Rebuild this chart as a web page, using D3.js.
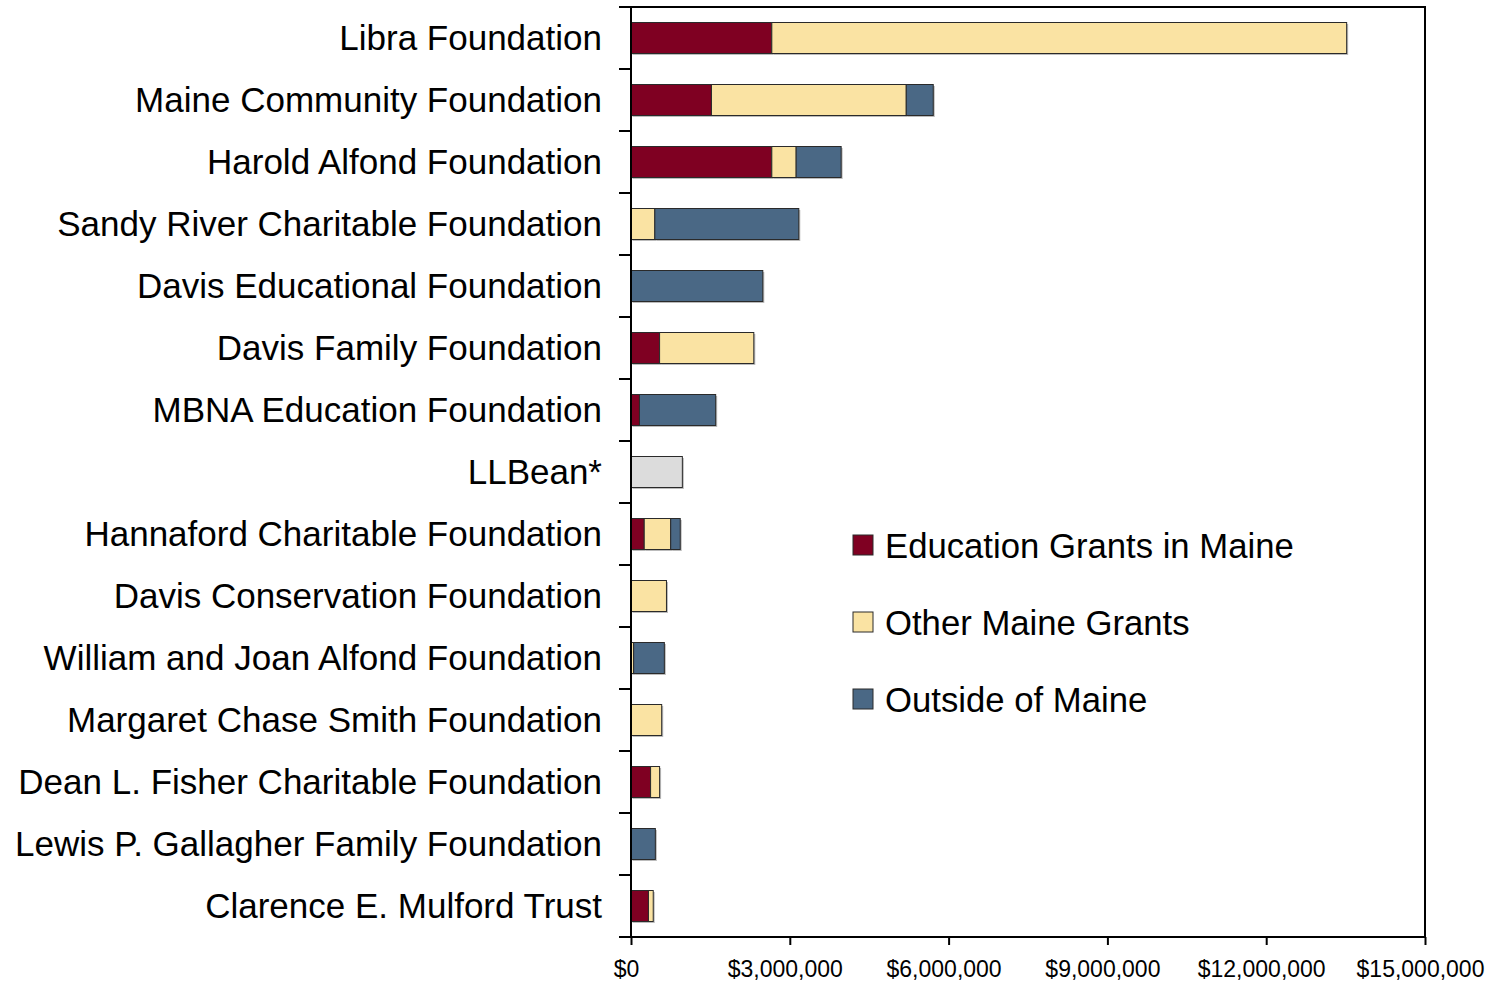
<!DOCTYPE html>
<html><head><meta charset="utf-8">
<script src="https://cdn.jsdelivr.net/npm/d3@7"></script>
<style>body{margin:0;background:#fff;} svg{display:block;font-family:"Liberation Sans",Arial,sans-serif;}</style>
</head><body>
<svg id="chart" width="1492" height="984"></svg>
<script>
const categories = ["Libra Foundation","Maine Community Foundation","Harold Alfond Foundation","Sandy River Charitable Foundation","Davis Educational Foundation","Davis Family Foundation","MBNA Education Foundation","LLBean*","Hannaford Charitable Foundation","Davis Conservation Foundation","William and Joan Alfond Foundation","Margaret Chase Smith Foundation","Dean L. Fisher Charitable Foundation","Lewis P. Gallagher Family Foundation","Clarence E. Mulford Trust"];
const educationMaine = [2660000,1520000,2660000,0,0,540000,160000,0,250000,0,0,0,370000,0,330000];
const otherMaine =     [10860000,3680000,460000,450000,0,1780000,0,0,500000,670000,50000,580000,170000,0,90000];
const outsideMaine =   [0,510000,850000,2720000,2490000,0,1440000,0,180000,0,580000,0,0,460000,0];
const unspecified =    [0,0,0,0,0,0,0,970000,0,0,0,0,0,0,0];
const seriesNames = ["Education Grants in Maine","Other Maine Grants","Outside of Maine"];
const xTicks = [0,3000000,6000000,9000000,12000000,15000000];
const colors = ["#7f0022","#fae3a3","#4a6885","#dcdcdc"];

const svg = d3.select("#chart");
const L=631, R=1425, T=7, B=937;
const x = d3.scaleLinear().domain([0,15000000]).range([L,R]);
const y = d3.scaleBand().domain(categories).range([T,B]).paddingInner(0.5).paddingOuter(0.25);

const keys = ["edu","other","out","unsp"];
const rows = categories.map((c,i)=>({cat:c,edu:educationMaine[i],other:otherMaine[i],out:outsideMaine[i],unsp:unspecified[i]}));
const stacked = d3.stack().keys(keys)(rows);

const g = svg.append("g");
stacked.forEach((s,si)=>{
  g.selectAll(null).data(s.filter(d=>d[1]-d[0]>0)).enter().append("rect")
    .attr("x",d=>x(d[0])+1.5).attr("y",d=>y(d.data.cat)+1.5)
    .attr("width",d=>x(d[1])-x(d[0])).attr("height",y.bandwidth())
    .attr("fill","#bbb");
});
stacked.forEach((s,si)=>{
  g.selectAll(null).data(s.filter(d=>d[1]-d[0]>0)).enter().append("rect")
    .attr("x",d=>x(d[0])).attr("y",d=>y(d.data.cat))
    .attr("width",d=>x(d[1])-x(d[0])).attr("height",y.bandwidth())
    .attr("fill",colors[si]).attr("stroke","#2a2a2a").attr("stroke-width",1);
});

// plot frame
svg.append("rect").attr("x",L).attr("y",T).attr("width",R-L).attr("height",B-T)
  .attr("fill","none").attr("stroke","#000").attr("stroke-width",2);

// x axis
const xa = svg.append("g").attr("transform",`translate(0,${B})`)
  .call(d3.axisBottom(x).tickValues(xTicks).tickSize(8).tickPadding(16)
    .tickFormat(d=>"$"+d3.format(",")(d)));
xa.select(".domain").remove();
xa.selectAll("line").attr("stroke","#000").attr("stroke-width",2);
xa.selectAll("text").attr("font-size",23).attr("dx",-5).attr("fill","#000").attr("font-family","Liberation Sans, Arial, sans-serif");

// y category ticks at band boundaries
const bounds = d3.range(categories.length+1).map(i=>T+i*(B-T)/categories.length);
svg.selectAll(null).data(bounds).enter().append("line")
  .attr("x1",L-12).attr("x2",L).attr("y1",d=>d).attr("y2",d=>d)
  .attr("stroke","#000").attr("stroke-width",2);
svg.selectAll(null).data(categories).enter().append("text")
  .attr("x",602).attr("y",d=>y(d)+y.bandwidth()/2).attr("dy","0.35em")
  .attr("text-anchor","end").attr("font-size",35).attr("fill","#000").text(d=>d);

// legend
const lg = svg.append("g");
seriesNames.forEach((n,i)=>{
  const cy = 545 + i*77;
  lg.append("rect").attr("x",853).attr("y",cy-10).attr("width",20).attr("height",20)
    .attr("fill",colors[i]).attr("stroke","#2a2a2a").attr("stroke-width",1);
  lg.append("text").attr("x",885).attr("y",cy+1).attr("dy","0.35em").attr("font-size",34.7).attr("fill","#000").text(n);
});
</script>
</body></html>
